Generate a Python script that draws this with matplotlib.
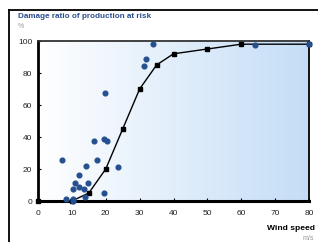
import numpy as np
import matplotlib
matplotlib.use("Agg")
import matplotlib.pyplot as plt
from matplotlib.lines import Line2D
from matplotlib.colors import LinearSegmentedColormap

plt.rcParams['font.family'] = ['Liberation Sans', 'DejaVu Sans']

# Curve (damage function)
curve_x = [0, 10, 15, 20, 25, 30, 35, 40, 50, 60, 80]
curve_y = [0, 0, 5, 20, 45, 70, 85, 92, 95, 98, 98]

# Observed points
obs_x = [7.0, 8.3, 10.2, 10.4, 10.4, 11.0, 12.1, 12.1, 13.6, 13.9, 14.2, 14.7,
         16.5, 17.3, 19.4, 19.5, 19.9, 20.4, 23.5, 31.3, 31.9, 34.0, 64.0, 80.0]
obs_y = [25.5, 1.5, 0.3, 1.0, 7.5, 11.0, 16.5, 8.5, 7.5, 2.3, 22.0, 11.5,
         37.5, 25.5, 39.0, 5.2, 67.5, 37.5, 21.5, 84.5, 88.5, 98.0, 97.5, 98.0]

x_ticks = [0, 10, 20, 30, 40, 50, 60, 70, 80]
y_ticks = [0, 20, 40, 60, 80, 100]

W, H = 318, 242
fig = plt.figure(figsize=(W / 100, H / 100), dpi=100)
ax = fig.add_axes([38 / W, 1 - 201 / H, (309 - 38) / W, (201 - 41) / H])

# gradient background
cmap = LinearSegmentedColormap.from_list('g', ['#ffffff', '#c4ddf6'])
grad = np.linspace(0, 1, 256).reshape(1, -1)
ax.imshow(grad, extent=[0, 80, 0, 100], aspect='auto', cmap=cmap, zorder=0)

ax.plot(curve_x, curve_y, color='black', lw=1.0, marker='s', ms=3.3,
        zorder=3, clip_on=False)
ax.plot(obs_x, obs_y, linestyle='none', marker='o', ms=3.4, color='#25508f',
        zorder=4, clip_on=False)

ax.set_xlim(0, 80)
ax.set_ylim(0, 100)
ax.set_xticks(x_ticks)
ax.set_yticks(y_ticks)
ax.tick_params(direction='in', length=2.5, width=0.8, labelsize=6.0,
               colors='black')
ax.tick_params(axis='x', pad=6.5)
ax.tick_params(axis='y', pad=4)
for lab in ax.get_xticklabels() + ax.get_yticklabels():
    lab.set_color('#222222')
ax.spines['left'].set_linewidth(2.0)
ax.spines['bottom'].set_linewidth(2.2)
ax.spines['top'].set_linewidth(1.3)
ax.spines['right'].set_linewidth(1.3)
ax.spines['top'].set_color('#333333')

# texts
fig.text(18 / W, 1 - 17 / H, 'Damage ratio of production at risk', fontsize=5.9,
         fontweight='bold', color='#2a4f8f', va='center', ha='left')
fig.text(18 / W, 1 - 27 / H, '%', fontsize=5.0, color='#999999',
         va='center', ha='left')
fig.text(315 / W, 1 - 228 / H, 'Wind speed', fontsize=6.1, fontweight='bold',
         color='black', va='center', ha='right')
fig.text(314 / W, 1 - 238 / H, 'm/s', fontsize=5.0, color='#999999',
         va='center', ha='right')

# outer frame
fig.add_artist(Line2D([9 / W, 1.0], [1 - 10 / H, 1 - 10 / H],
                      transform=fig.transFigure, color='black', lw=1.3))
fig.add_artist(Line2D([9 / W, 9 / W], [1 - 10 / H, 0.0],
                      transform=fig.transFigure, color='black', lw=1.3))

fig.savefig('out.png', dpi=100)
